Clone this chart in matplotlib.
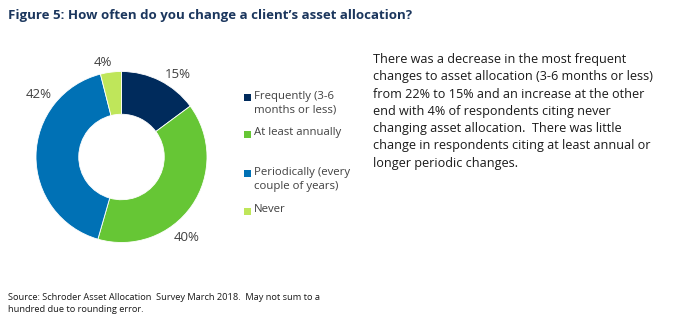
import matplotlib.pyplot as plt
import numpy as np
from matplotlib.patches import Rectangle

plt.rcParams["font.family"] = ["Open Sans", "DejaVu Sans"]

# Data
categories = ["Frequently (3-6\nmonths or less)", "At least annually",
              "Periodically (every\ncouple of years)", "Never"]
shares = [15, 40, 42, 4]
pct_labels = ["15%", "40%", "42%", "4%"]
colors = ["#002B5C", "#66C635", "#0071B5", "#BFE65A"]

# label placement (angle in degrees, distance in radii) -- Excel "best fit" look
label_pos = [(56, 1.17), (-51, 1.21), (143, 1.21), (101, 1.12)]

W, H = 687, 325
fig = plt.figure(figsize=(W / 100, H / 100), dpi=100)

# donut axes
cx, cy, r = 121.5, 157, 85.5
lim = 1.4
size = 2 * r * lim
ax = fig.add_axes([(cx - size / 2) / W, 1 - (cy + size / 2) / H, size / W, size / H])
ax.pie(shares, colors=colors, startangle=90, counterclock=False, radius=1,
       wedgeprops=dict(width=0.5, edgecolor="white", linewidth=0.6))
for txt, (ang, d) in zip(pct_labels, label_pos):
    a = np.deg2rad(ang)
    ax.text(d * np.cos(a), d * np.sin(a), txt, ha="center", va="center",
            fontsize=9.5, color="#404040")
ax.set_xlim(-lim, lim)
ax.set_ylim(-lim, lim)
ax.set_aspect("equal")
ax.axis("off")

# title
fig.text(8 / W, 1 - 15 / H, "Figure 5: How often do you change a client\u2019s asset allocation?",
         fontsize=9.5, fontweight="bold", color="#1B365D", va="center", ha="left")

# legend (manual)
legend_y = [97, 134, 173, 211]
for lab, col, y in zip(categories, colors, legend_y):
    fig.patches.append(Rectangle((244 / W, 1 - (y + 3.5) / H), 7 / W, 7 / H,
                                 transform=fig.transFigure, facecolor=col,
                                 edgecolor="none"))
    fig.text(254 / W, 1 - (y - 6.5) / H, lab, fontsize=8.2, color="#404040",
             va="top", ha="left", linespacing=1.4)

# commentary
comment = ("There was a decrease in the most frequent\n"
           "changes to asset allocation (3-6 months or less)\n"
           "from 22% to 15% and an increase at the other\n"
           "end with 4% of respondents citing never\n"
           "changing asset allocation.  There was little\n"
           "change in respondents citing at least annual or\n"
           "longer periodic changes.")
fig.text(373 / W, 1 - 53 / H, comment, fontsize=9.1, color="#1a1a1a",
         va="top", ha="left", linespacing=1.43)

# source
fig.text(8 / W, 1 - 293 / H,
         "Source: Schroder Asset Allocation  Survey March 2018.  May not sum to a\n"
         "hundred due to rounding error.",
         fontsize=6.7, color="#1a1a1a", va="top", ha="left", linespacing=1.45)

fig.savefig("out.png", dpi=100)
